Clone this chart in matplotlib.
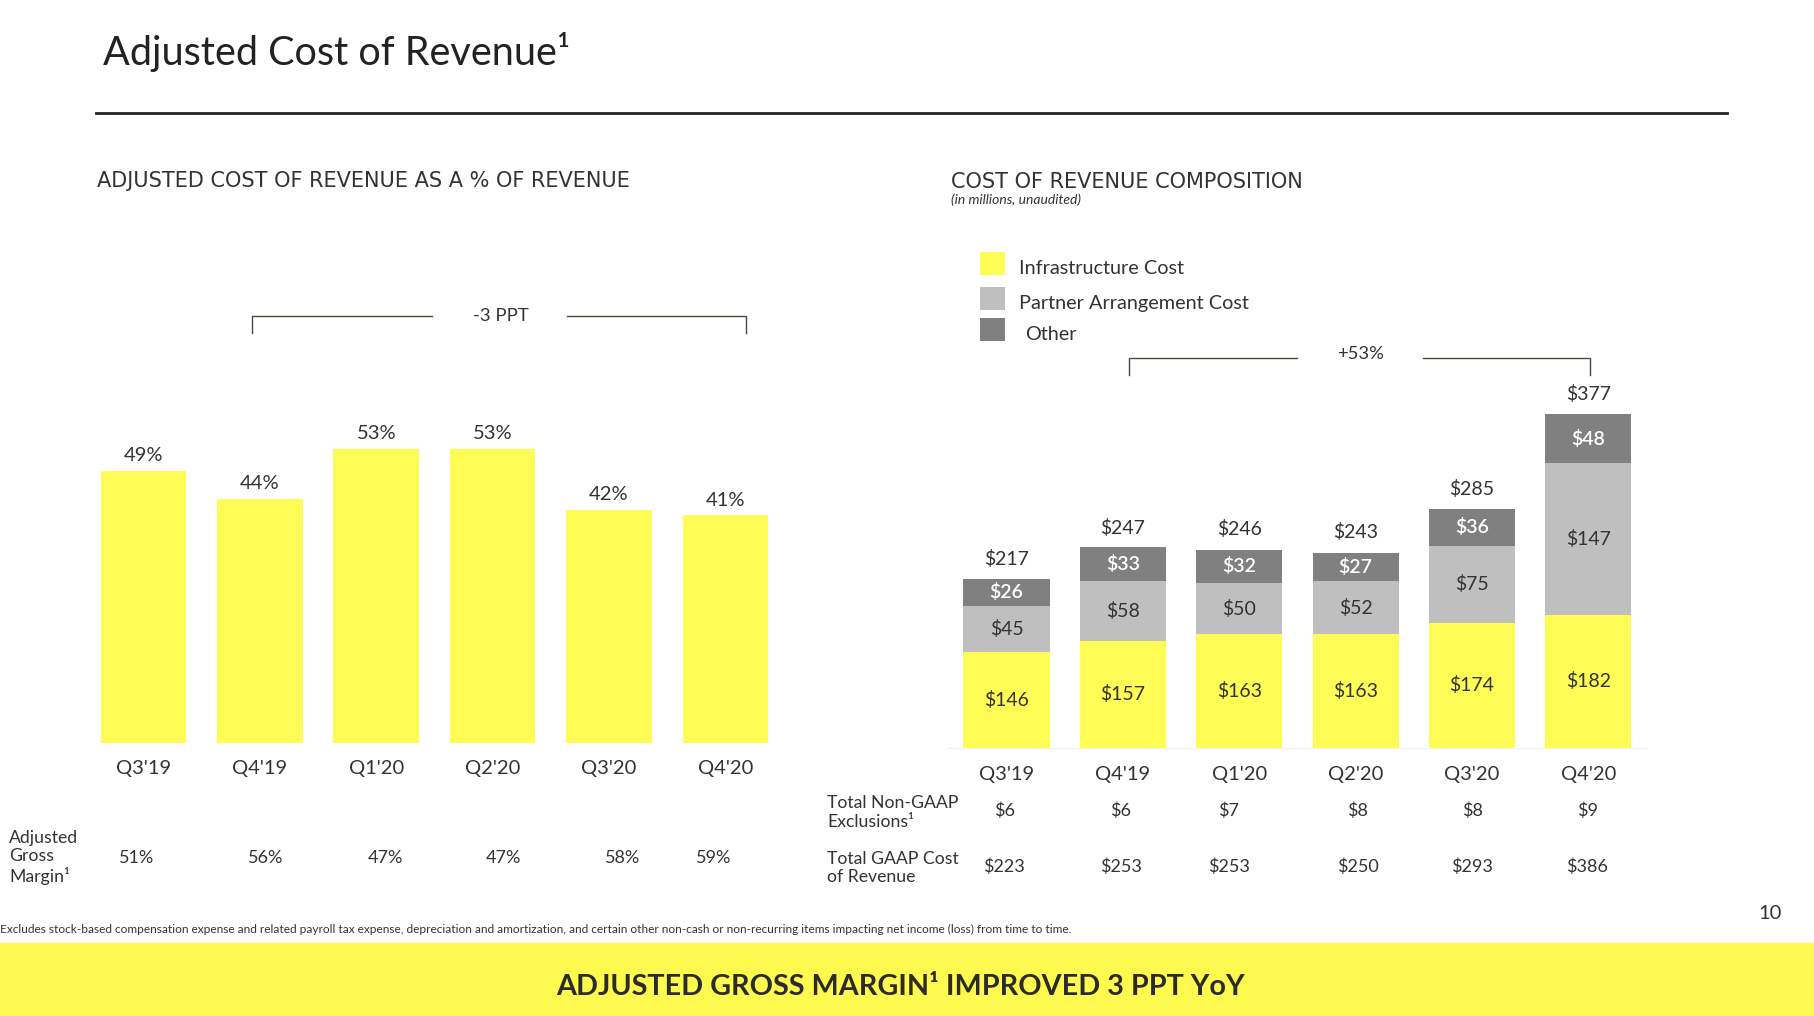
import matplotlib
matplotlib.use("Agg")
import matplotlib.pyplot as plt
from matplotlib.patches import Rectangle
from matplotlib.lines import Line2D

plt.rcParams['font.family'] = ['Lato', 'DejaVu Sans']

# data
quarters = ["Q3'19", "Q4'19", "Q1'20", "Q2'20", "Q3'20", "Q4'20"]
cost_pct = [49, 44, 53, 53, 42, 41]
gross_margin = [51, 56, 47, 47, 58, 59]

infra = [146, 157, 163, 163, 174, 182]
partner = [45, 58, 50, 52, 75, 147]
other = [26, 33, 32, 27, 36, 48]
totals = [217, 247, 246, 243, 285, 377]
non_gaap = [6, 6, 7, 8, 8, 9]
gaap_total = [223, 253, 253, 250, 293, 386]

YELLOW = '#FFFC55'
LIGHT = '#BFBFBF'
DARK = '#808080'
TXT = '#333333'

W, H = 1568.0, 878.0   # layout grid of the slide


def fx(x):
    return x / W


def fy(y):
    return 1 - y / H


fig = plt.figure(figsize=(18.14, 10.16), dpi=100)

# title + rule
fig.text(fx(89), fy(45), "Adjusted Cost of Revenue\u00b9", fontsize=28.5, color='#222222',
         va='center', ha='left')
fig.add_artist(Line2D([fx(83), fx(1493)], [fy(98), fy(98)], color='#222222', lw=2))

# section headers
fig.text(fx(84), fy(156), "ADJUSTED COST OF REVENUE AS A % OF REVENUE", fontsize=15,
         color=TXT, va='center', ha='left', family=['DejaVu Sans'])
fig.text(fx(822), fy(157), "COST OF REVENUE COMPOSITION", fontsize=15,
         color=TXT, va='center', ha='left', family=['DejaVu Sans'])
fig.text(fx(822), fy(173), "(in millions, unaudited)", fontsize=10, style='italic',
         color=TXT, va='center', ha='left')

x = list(range(len(quarters)))

# ---- left chart
# axes spans bar area; 4.8 px per percentage point
ax1 = fig.add_axes([fx(73.7), fy(642), fx(677.3) - fx(73.7), (60 * 4.8) / H])
ax1.bar(x, cost_pct, width=0.735, color=YELLOW)
ax1.set_xlim(-0.5, 5.5)
ax1.set_ylim(0, 60)
ax1.axis('off')
for i, v in enumerate(cost_pct):
    ax1.text(i, v + 2.7, f"{v}%", ha='center', va='center', fontsize=14.5, color=TXT)
    ax1.text(i, -4.6, quarters[i], ha='center', va='center', fontsize=14.5, color=TXT)

gm_dx = [-0.06, 0.05, 0.08, 0.09, 0.12, -0.1]
for i, v in enumerate(gross_margin):
    ax1.text(i + gm_dx[i], -20.7, f"{v}%", ha='center', va='center', fontsize=13, color=TXT)

fig.text(fx(8), fy(741), "Adjusted\nGross\nMargin\u00b9", fontsize=12.7, color=TXT,
         va='center', ha='left', linespacing=1.2)

# bracket -3 PPT
by = 76.9
tick = 3.1
ax1.plot([0.93, 0.93, 2.48], [by - tick, by, by], color='#4a4a3a', lw=1, clip_on=False)
ax1.plot([3.64, 5.18, 5.18], [by, by, by - tick], color='#4a4a3a', lw=1, clip_on=False)
ax1.text(3.07, by, "-3 PPT", ha='center', va='center', fontsize=13.3, color=TXT)

# ---- right chart
# 0.89 px per $M, axis baseline at $52M
base = 52
scale = 0.89
ax2 = fig.add_axes([fx(819.7), fy(647), fx(1423.3) - fx(819.7), (360 * scale) / H])
bottom2 = [a + b for a, b in zip(infra, partner)]
ax2.bar(x, infra, width=0.74, color=YELLOW)
ax2.bar(x, partner, width=0.74, bottom=infra, color=LIGHT)
ax2.bar(x, other, width=0.74, bottom=bottom2, color=DARK)
ax2.set_xlim(-0.5, 5.5)
ax2.set_ylim(base, base + 360)
ax2.axis('off')
ax2.axhline(base, color='#EEEEEE', lw=1.5)

for i in x:
    ax2.text(i, (base + infra[i]) / 2 + 0.5, f"${infra[i]}", ha='center', va='center',
             fontsize=14, color=TXT)
    ax2.text(i, infra[i] + partner[i] / 2, f"${partner[i]}", ha='center', va='center',
             fontsize=14, color=TXT)
    ax2.text(i, bottom2[i] + other[i] / 2, f"${other[i]}", ha='center', va='center',
             fontsize=14, color='white', fontweight='semibold')
    ax2.text(i, totals[i] + 19, f"${totals[i]}", ha='center', va='center',
             fontsize=14, color=TXT)
    ax2.text(i, base - 25, quarters[i], ha='center', va='center', fontsize=14.5, color=TXT)

ng_dx = [-0.02, -0.02, -0.09, 0.02, 0.0, -0.01]
for i in x:
    ax2.text(i + ng_dx[i], base - 60.5, f"${non_gaap[i]}", ha='center', va='center',
             fontsize=13, color=TXT)
    ax2.text(i + ng_dx[i], base - 114.5, f"${gaap_total[i]}", ha='center', va='center',
             fontsize=13, color=TXT)

fig.text(fx(715), fy(702), "Total Non-GAAP\nExclusions\u00b9", fontsize=12.7, color=TXT,
         va='center', ha='left', linespacing=1.2)
fig.text(fx(715), fy(750), "Total GAAP Cost\nof Revenue", fontsize=12.7, color=TXT,
         va='center', ha='left', linespacing=1.2)

# bracket +53%
by2 = base + (647 - 309) / scale
tick2 = 15 / scale
ax2.plot([1.05, 1.05, 2.5], [by2 - tick2, by2, by2], color='#4a4a3a', lw=1, clip_on=False)
ax2.plot([3.58, 5.01, 5.01], [by2, by2, by2 - tick2], color='#4a4a3a', lw=1, clip_on=False)
ax2.text(3.04, by2 + 3, "+53%", ha='center', va='center', fontsize=13.3, color=TXT)

# legend
leg_items = [("Infrastructure Cost", YELLOW, 228, 881),
             ("Partner Arrangement Cost", LIGHT, 258, 881),
             ("Other", DARK, 285, 886)]
for label, col, yc, tx in leg_items:
    fig.add_artist(Rectangle((fx(847), fy(yc + 10)), fx(869) - fx(847), 20 / H,
                             facecolor=col, edgecolor='none'))
    fig.text(fx(tx), fy(yc + 4), label, fontsize=14.3, color=TXT, va='center', ha='left')

# footnote + page number
fig.text(fx(0), fy(803), "Excludes stock-based compensation expense and related payroll tax expense, "
         "depreciation and amortization, and certain other non-cash or non-recurring items "
         "impacting net income (loss) from time to time.", fontsize=8.6, color=TXT,
         va='center', ha='left')
fig.text(fx(1530), fy(789), "10", fontsize=14.5, color=TXT, va='center', ha='center')

# banner
fig.add_artist(Rectangle((0, 0), 1, (H - 815) / H, facecolor='#FDF94E', edgecolor='none'))
fig.text(fx(778), fy(853), "ADJUSTED GROSS MARGIN\u00b9 IMPROVED 3 PPT YoY", fontsize=20.7,
         fontweight='bold', color='#2b2b2b', va='center', ha='center')

fig.savefig("out.png", dpi=100)
